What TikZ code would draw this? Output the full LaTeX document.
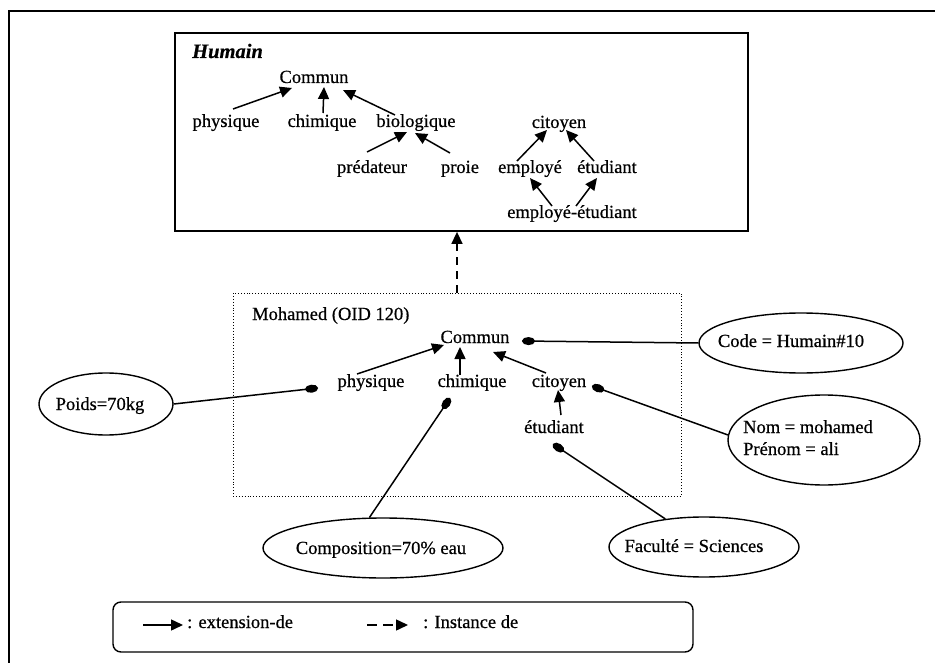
\documentclass[tikz,border=0pt]{standalone}
\usepackage{fontspec}
\setmainfont{Liberation Serif}[FakeBold=0.6]
\usetikzlibrary{arrows.meta,shapes.geometric}
\newcommand\txtsize{\fontsize{18.5}{22}\selectfont}
\begin{document}
\begin{tikzpicture}[x=1pt,y=-1pt,
  lbl/.style={font=\txtsize, inner sep=0pt, anchor=base},
  ext/.style={-{Triangle[length=12pt,width=11pt]}, line width=1.5pt},
  inst/.style={ext, dash pattern=on 8pt off 6pt},
  attach/.style={-{Ellipse[length=13pt,width=8pt]}, line width=1.5pt},
  bubble/.style={draw, ellipse, line width=1.4pt, inner sep=0pt},
  frame/.style={draw, line width=1.8pt, inner sep=0pt},
]
\useasboundingbox (0,0) rectangle (935,663);
\fill[white] (0,0) rectangle (935,663);

% page frame
\draw[line width=1.8pt] (935,11) -- (9,11) -- (9,663);

% ---- class Humain ----
\node[frame, rectangle, minimum width=573pt, minimum height=198pt] (hum) at (461.5,132) {};
\node[lbl, anchor=base west, font=\fontsize{20.5}{24}\selectfont\bfseries\itshape] (humt) at (192,58) {Humain};

\node[lbl] (com1)   at (314,83)  {Commun};
\node[lbl] (phys1)  at (226,127) {physique};
\node[lbl] (chim1)  at (322,127) {chimique};
\node[lbl] (bio1)   at (416,127) {biologique};
\node[lbl] (pred)   at (372,173) {prédateur};
\node[lbl] (proie)  at (460,173) {proie};
\node[lbl] (cit1)   at (559,128) {citoyen};
\node[lbl] (emp)    at (530,173) {employé};
\node[lbl] (etu1)   at (607,173) {étudiant};
\node[lbl] (empetu) at (572,218) {employé-étudiant};

\draw[ext] ([shift={(7,-18)}]phys1.base)   -- ([shift={(-22,5)}]com1.base);
\draw[ext] ([shift={(1,-14)}]chim1.base)   -- ([shift={(10,4)}]com1.base);
\draw[ext] ([shift={(-21,-12)}]bio1.base)  -- ([shift={(29,7)}]com1.base);
\draw[ext] ([shift={(-5,-21)}]pred.base)   -- ([shift={(-9,5)}]bio1.base);
\draw[ext] ([shift={(-10,-20)}]proie.base) -- ([shift={(-1,6)}]bio1.base);
\draw[ext] ([shift={(-13,-12)}]emp.base)   -- ([shift={(-12,2)}]cit1.base);
\draw[ext] ([shift={(-13,-12)}]etu1.base)  -- ([shift={(7,2)}]cit1.base);
\draw[ext] ([shift={(-20,-12)}]empetu.base) -- ([shift={(0,5)}]emp.base);
\draw[ext] ([shift={(4,-12)}]empetu.base)  -- ([shift={(-10,5)}]etu1.base);

% ---- instance Mohamed ----
\node[draw, dotted, line width=0.9pt, rectangle, minimum width=448pt, minimum height=203pt, inner sep=0pt] (moh) at (457,394.5) {};
\node[lbl, anchor=base west] (moht) at (252,320) {Mohamed (OID 120)};

\draw[inst] (moh.north) -- (hum.south -| moh.north);

\node[lbl] (com2)  at (475,343) {Commun};
\node[lbl] (phys2) at (371,387) {physique};
\node[lbl] (chim2) at (472,387) {chimique};
\node[lbl] (cit2)  at (559,387) {citoyen};
\node[lbl] (etu2)  at (554,433) {étudiant};

\draw[ext] ([shift={(-14,-13)}]phys2.base) -- ([shift={(-31,2)}]com2.base);
\draw[ext] ([shift={(-12,-12)}]chim2.base) -- ([shift={(-15,4)}]com2.base);
\draw[ext] ([shift={(-13,-14)}]cit2.base)  -- ([shift={(18,9)}]com2.base);
\draw[ext] ([shift={(7,-18)}]etu2.base)    -- ([shift={(-1,3)}]cit2.base);

% ---- attribute values ----
\node[bubble, minimum width=204pt, minimum height=60pt] (code) at (801,343) {};
\node[lbl] (codet) at (791,347) {Code = Humain\#10};

\node[bubble, minimum width=192pt, minimum height=90pt] (nom) at (824,440) {};
\node[lbl, anchor=base west] (nomt) at (743,433) {Nom = mohamed};
\node[lbl, anchor=base west] (prenomt) at (743,455) {Prénom = ali};

\node[bubble, minimum width=134pt, minimum height=62pt] (poids) at (106,404) {};
\node[lbl] (poidst) at (100,410) {Poids=70kg};

\node[bubble, minimum width=240pt, minimum height=60pt] (compo) at (383,548) {};
\node[lbl] (compot) at (381,554) {Composition=70\% eau};

\node[bubble, minimum width=190pt, minimum height=60pt] (fac) at (704,547) {};
\node[lbl] (fact) at (694,552) {Faculté = Sciences};

\draw[attach] (code.west)  -- ([shift={(47,-2)}]com2.base);
\draw[attach] (poids.east) -- ([shift={(-53,1)}]phys2.base);
\draw[attach] (compo.114)  -- ([shift={(-22,11)}]chim2.base);
\draw[attach] (nom.177)    -- ([shift={(33,-1)}]cit2.base);
\draw[attach] (fac.144)    -- ([shift={(-1,11)}]etu2.base);

% ---- legend ----
\node[draw, rounded corners=8pt, line width=1.4pt, minimum width=580pt, minimum height=50pt, inner sep=0pt] (legend) at (403,627) {};
\coordinate (la1) at (143,625);
\coordinate (la2) at (183,625);
\draw[ext] (la1) -- (la2);
\node[lbl, anchor=base west] (legext) at (187,628) {: extension-de};
\coordinate (lb1) at (367,625);
\coordinate (lb2) at (408,625);
\draw[ext, dash pattern=on 10pt off 6pt] (lb1) -- (lb2);
\node[lbl, anchor=base west] (leginst) at (423,628) {: Instance de};
\end{tikzpicture}
\end{document}
